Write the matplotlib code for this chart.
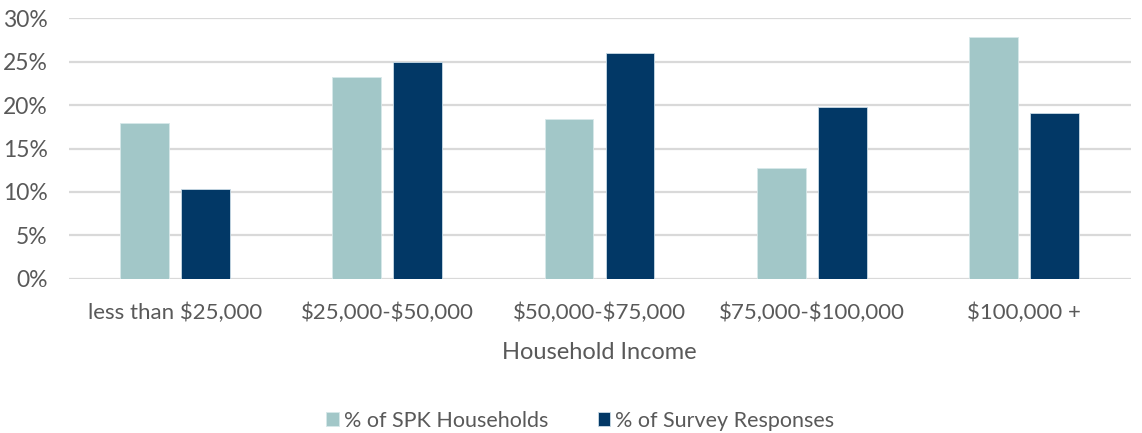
import numpy as np
import matplotlib.pyplot as plt
from matplotlib.ticker import PercentFormatter

categories = ['less than $25,000', '$25,000-$50,000', '$50,000-$75,000',
              '$75,000-$100,000', '$100,000 +']
spk_households = [17.9, 23.2, 18.4, 12.8, 27.8]
survey_responses = [10.3, 24.9, 26.0, 19.8, 19.1]
series_names = ['% of SPK Households', '% of Survey Responses']

plt.rcParams['font.family'] = ['Lato', 'DejaVu Sans']
plt.rcParams['text.parse_math'] = False
text_col = '#595959'

fig = plt.figure(figsize=(11.42, 4.33), dpi=100)
ax = fig.add_axes([0.060, 0.356, 0.930, 0.602])

x = np.arange(len(categories))
w = 0.23
off = (w + 0.057) / 2
ax.bar(x - off, spk_households, w, color='#a2c7c8', edgecolor='#d7e8e9',
       linewidth=0.6, label=series_names[0], zorder=3)
ax.bar(x + off, survey_responses, w, color='#023866', edgecolor='#c9dbe6',
       linewidth=0.6, label=series_names[1], zorder=3)

ax.set_xlim(-0.5, len(categories) - 0.5)
ax.set_ylim(0, 30)
ax.set_yticks(np.arange(0, 31, 5))
ax.yaxis.set_major_formatter(PercentFormatter(decimals=0))
ax.grid(axis='y', color='#d9d9d9', linewidth=1.6, zorder=0)
for s in ax.spines.values():
    s.set_visible(False)
ax.tick_params(length=0, labelcolor=text_col)
ax.tick_params(axis='x', labelsize=16, pad=17)
ax.tick_params(axis='y', labelsize=16.5, pad=15)
ax.set_xticks(x)
ax.set_xticklabels(categories)
ax.set_xlabel('Household Income', fontsize=17, color=text_col, labelpad=14)

fig.legend(loc='center', bbox_to_anchor=(0.508, 0.028), ncol=2, frameon=False,
           fontsize=15.5, labelcolor=text_col, handlelength=0.6,
           handleheight=0.6, handletextpad=0.2, columnspacing=2.3)

fig.savefig('out.png', dpi=100)
